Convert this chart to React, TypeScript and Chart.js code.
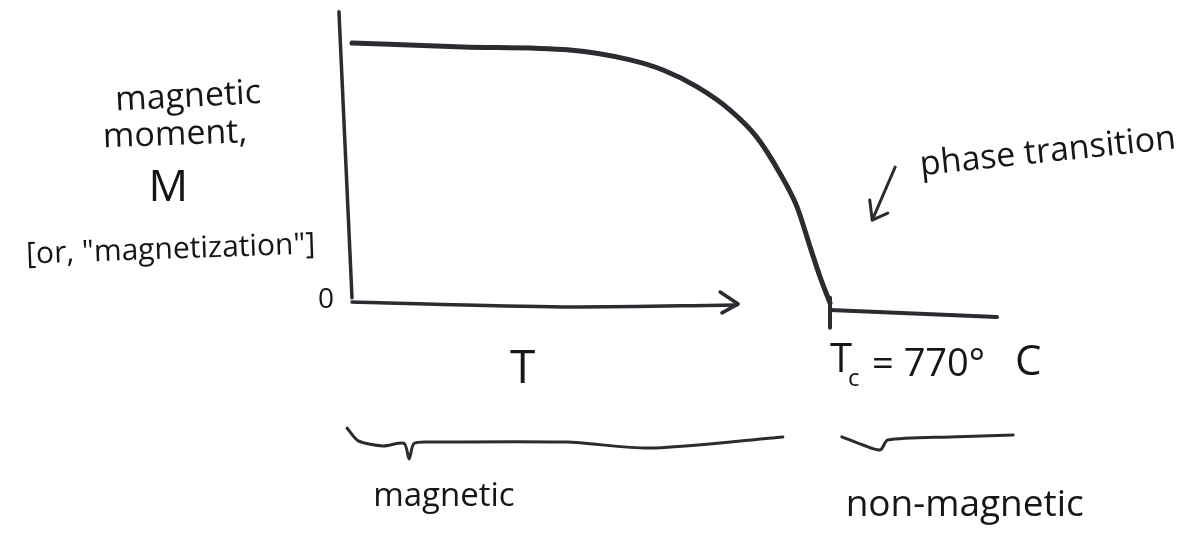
import React, { useEffect, useRef } from "react";
import { Chart, registerables } from "chart.js";

Chart.register(...registerables);

// Magnetization M (relative to saturation) versus temperature T in °C
const ferroTemps = [0, 179, 351, 448, 501, 556, 609, 652, 689, 717, 738, 754, 770];
const ferroMoment = [1.0, 0.985, 0.973, 0.935, 0.896, 0.831, 0.742, 0.638, 0.5, 0.369, 0.215, 0.1, 0.0];

// Above the Curie point the moment stays at (about) zero
const paraTemps = [770, 1039];
const paraMoment = [-0.027, -0.054];

const curieTemp = 770;

// Hand-drawn axes
const yAxisTemps = [-21, 0];
const yAxisMoment = [1.12, 0.02];
const xAxisTemps = [0, 340, 620];
const xAxisMoment = [0.004, -0.015, -0.008];
const xArrowTemps = [593, 622, 596];
const xArrowMoment = [0.042, -0.004, -0.038];

// Braces marking the two regimes
const magBraceTemps = [-8, 10, 50, 84, 92, 100, 130, 346, 480, 694];
const magBraceMoment = [-0.481, -0.53, -0.55, -0.54, -0.6, -0.54, -0.535, -0.535, -0.558, -0.515];
const nonMagBraceTemps = [789, 823, 851, 863, 963, 1065];
const nonMagBraceMoment = [-0.515, -0.546, -0.565, -0.527, -0.515, -0.508];

// Pointer to the transition
const pointerTemps = [875, 838];
const pointerMoment = [0.523, 0.319];
const pointerHeadTemps = [834, 838, 863];
const pointerHeadMoment = [0.396, 0.319, 0.346];

// Text
const yTitleLines = ["magnetic", "moment,", "M", "[or, \"magnetization\"]"];
const originLabel = "0";
const xTitle = "T";
const curieLabel = ["= 770°", "C"];
const regimeLabels = ["magnetic", "non-magnetic"];
const transitionLabel = "phase transition";

const INK = "#161616";
const PEN = "#2a2c31";
const FONT = '"Open Sans", "DejaVu Sans", sans-serif';

const pts = (xs: number[], ys: number[]) => xs.map((x, i) => ({ x, y: ys[i] }));

type Note = { text: string; t: number; m: number; size: number; angle?: number; align?: CanvasTextAlign };

const notes: Note[] = [
  { text: yTitleLines[0], t: -264, m: 0.792, size: 34, angle: -3 },
  { text: yTitleLines[1], t: -285, m: 0.646, size: 34, angle: -2 },
  { text: yTitleLines[2], t: -296, m: 0.442, size: 44 },
  { text: yTitleLines[3], t: -292, m: 0.204, size: 30, angle: -2 },
  { text: originLabel, t: -42, m: 0.012, size: 28 },
  { text: xTitle, t: 275, m: -0.258, size: 46 },
  { text: regimeLabels[0], t: 148, m: -0.746, size: 33 },
  { text: regimeLabels[1], t: 987, m: -0.777, size: 37 },
  { text: transitionLabel, t: 1121, m: 0.58, size: 34, angle: -6 },
];

const sketchText = {
  id: "sketchText",
  afterDatasetsDraw(chart: any) {
    const { ctx, scales } = chart;
    const x = scales.x;
    const y = scales.y;
    ctx.save();
    ctx.fillStyle = INK;
    ctx.textBaseline = "middle";
    for (const n of notes) {
      ctx.save();
      ctx.translate(x.getPixelForValue(n.t), y.getPixelForValue(n.m));
      ctx.rotate(((n.angle || 0) * Math.PI) / 180);
      ctx.font = `${n.size}px ${FONT}`;
      ctx.textAlign = n.align || "center";
      ctx.fillText(n.text, 0, 0);
      ctx.restore();
    }
    // T_c = 770° C, written from the Curie point rightwards
    const cx = x.getPixelForValue(curieTemp);
    const cy = y.getPixelForValue(-0.238);
    ctx.textAlign = "left";
    ctx.font = `40px ${FONT}`;
    ctx.fillText("T", cx, cy - 4);
    const tw = ctx.measureText("T").width;
    ctx.font = `24px ${FONT}`;
    ctx.fillText("c", cx + tw - 4, cy + 14);
    ctx.font = `38px ${FONT}`;
    ctx.fillText(curieLabel[0], cx + tw + 20, cy);
    ctx.font = `42px ${FONT}`;
    ctx.fillText(curieLabel[1], x.getPixelForValue(1068), cy - 2);
    ctx.restore();
  },
};

const line = (data: { x: number; y: number }[], width: number, extra: any = {}) => ({
  data,
  borderColor: PEN,
  borderWidth: width,
  pointRadius: 0,
  fill: false,
  borderCapStyle: "round",
  borderJoinStyle: "round",
  ...extra,
});

export default function App() {
  const ref = useRef<HTMLCanvasElement | null>(null);

  useEffect(() => {
    if (!ref.current) return;
    const chart = new Chart(ref.current, {
      type: "scatter",
      data: {
        datasets: [
          line(pts(ferroTemps, ferroMoment), 5, { showLine: true, cubicInterpolationMode: "monotone" }),
          line(pts(paraTemps, paraMoment), 4, { showLine: true }),
          line(pts([curieTemp, curieTemp], [0.02, -0.095]), 4, { showLine: true }),
          line(pts(yAxisTemps, yAxisMoment), 3.5, { showLine: true }),
          line(pts(xAxisTemps, xAxisMoment), 3.5, { showLine: true, tension: 0.3 }),
          line(pts(xArrowTemps, xArrowMoment), 3.5, { showLine: true }),
          line(pts(magBraceTemps, magBraceMoment), 3, { showLine: true, tension: 0.25 }),
          line(pts(nonMagBraceTemps, nonMagBraceMoment), 3, { showLine: true, tension: 0.25 }),
          line(pts(pointerTemps, pointerMoment), 3, { showLine: true }),
          line(pts(pointerHeadTemps, pointerHeadMoment), 3, { showLine: true }),
        ],
      },
      options: {
        animation: false,
        responsive: false,
        maintainAspectRatio: false,
        layout: { padding: 0 },
        plugins: { legend: { display: false }, tooltip: { enabled: false } },
        events: [],
        scales: {
          x: { type: "linear", min: -567, max: 1354.7, display: false },
          y: { type: "linear", min: -0.9077, max: 1.1654, display: false },
        },
      },
      plugins: [sketchText],
    });
    return () => chart.destroy();
  }, []);

  return (
    <div style={{ position: "fixed", left: 0, top: 0, width: 1193, height: 539, background: "#ffffff" }}>
      <canvas ref={ref} width={1193} height={539} style={{ width: 1193, height: 539 }} />
    </div>
  );
}
